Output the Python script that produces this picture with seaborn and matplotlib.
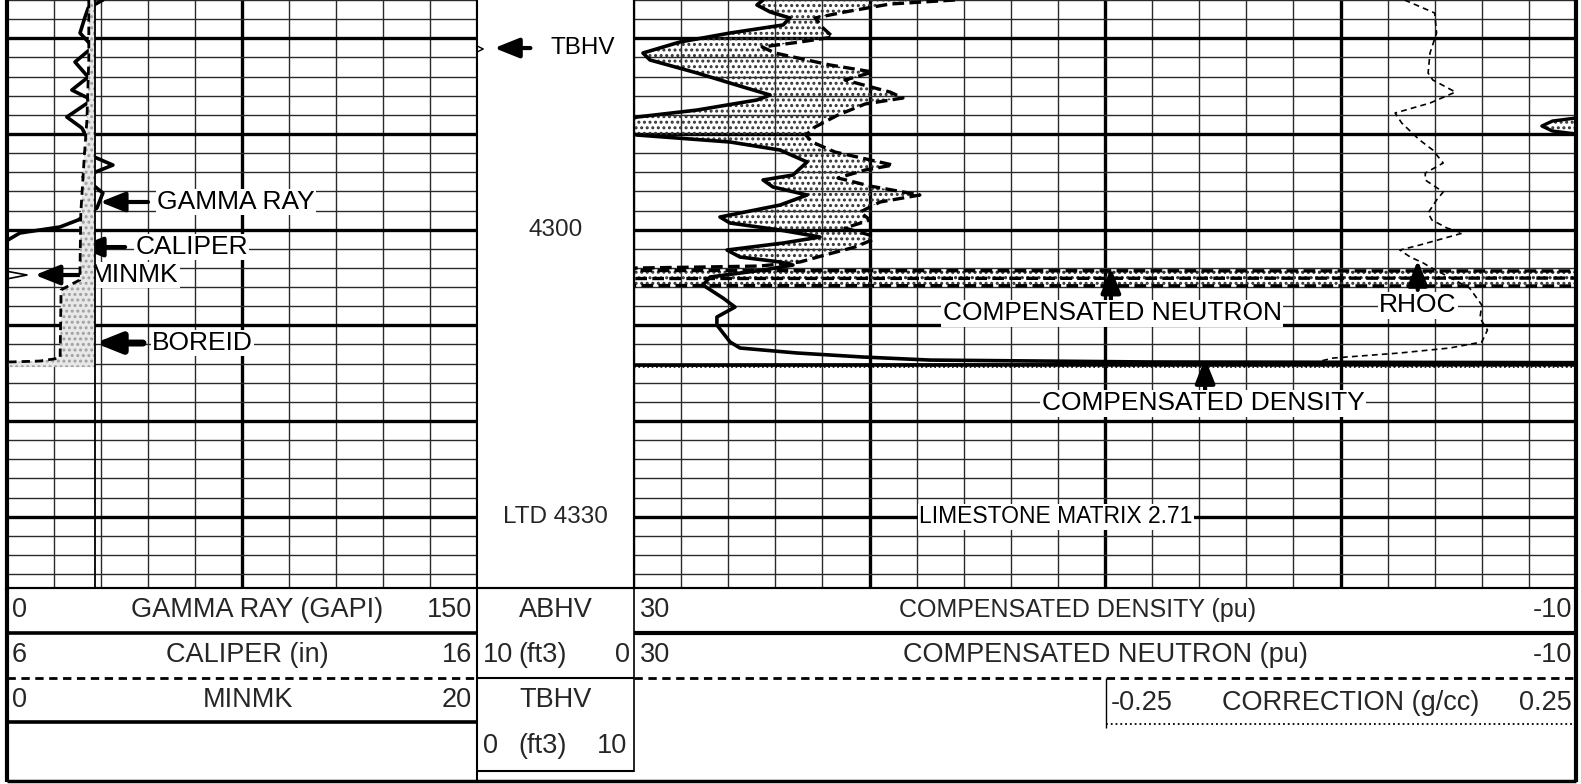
"""Wireline log panel: gamma ray / caliper track, depth track and density-neutron track."""

import matplotlib.pyplot as plt
import numpy as np
import seaborn as sns
from matplotlib.ticker import FixedLocator, MultipleLocator

W, H = 1581, 784
GRID_BOTTOM = 588
TOP_DEPTH, BASE_DEPTH = 4276.0, 4337.45

# ---- track 1 curves
gr_depth = [4276.00, 4276.84, 4277.78, 4279.45, 4280.91, 4282.48, 4284.05, 4285.41,
            4286.45, 4288.23, 4289.38, 4290.95, 4291.99, 4293.25, 4294.50, 4296.17,
            4297.74, 4298.99, 4299.72, 4300.35, 4301.08, 4301.50]
gr_gapi = [30.6, 25.9, 24.9, 23.3, 27.4, 21.7, 25.9, 20.7, 27.1, 19.1, 23.9, 26.5,
           24.9, 33.8, 24.3, 30.6, 28.7, 22.7, 16.9, 4.1, 0.3, -2.0]

cal_depth = [4276.00, 4282.27, 4288.54, 4292.72, 4298.26, 4305.26, 4305.68, 4306.31,
             4313.42, 4313.73, 4313.83, 4314.36]
cal_in = [7.74, 7.74, 7.70, 7.64, 7.57, 7.55, 7.38, 7.15, 7.13, 6.70, 6.04, 6.04]
bit_size_in = 7.875

minmk_depth = [4276.0, 4304.35, 4304.74, 4305.15, 4337.4]
minmk_val = [0.0, 0.0, 0.85, 0.0, 0.0]

# ---- depth track curve
tbhv_depth = [4276.0, 4280.80, 4281.12, 4281.44, 4337.4]
tbhv_ft3 = [0.0, 0.0, 0.4, 0.0, 0.0]

# ---- track 2 curves
dens_depth = [4276.00, 4276.52, 4277.25, 4277.88, 4278.61, 4279.45, 4280.39, 4281.54,
              4282.27, 4283.63, 4285.09, 4285.93, 4286.45, 4287.50, 4288.23, 4288.33,
              4288.65, 4289.17, 4289.69, 4290.00, 4290.11, 4290.84, 4291.68, 4292.93,
              4294.29, 4294.81, 4295.54, 4296.38, 4297.43, 4298.68, 4299.31, 4300.04,
              4300.77, 4301.40, 4302.13, 4302.86, 4303.38, 4303.70, 4304.22, 4304.95,
              4305.79, 4307.15, 4308.09, 4309.13, 4309.97, 4311.74, 4312.37, 4312.89,
              4313.31, 4313.63, 4313.83, 4313.90, 4314.10, 4314.15]
dens_pu = [24.52, 24.78, 24.22, 23.38, 23.67, 25.92, 28.05, 29.62,
           29.32, 27.32, 25.37, 24.22, 24.78, 27.32, 29.87, 30.0,
           31.0, 31.45, 31.0, 30.0, 29.87, 25.92, 23.80, 22.65,
           23.25, 24.52, 24.10, 22.65, 23.80, 26.35, 25.92, 23.80,
           22.10, 23.67, 26.05, 25.50, 23.80, 23.25, 24.52, 26.77,
           27.07, 26.22, 25.71, 26.48, 26.48, 25.92, 25.50, 23.08,
           20.28, 17.43, 8.09, -10.5, -10.5, 30.5]

neut_depth = [4276.00, 4276.42, 4277.25, 4277.88, 4278.93, 4279.87, 4280.39, 4280.91,
              4281.54, 4282.79, 4283.53, 4284.36, 4285.62, 4286.24, 4286.87, 4288.02,
              4289.27, 4290.11, 4290.84, 4291.89, 4293.25, 4293.77, 4294.60, 4295.44,
              4296.38, 4297.11, 4298.16, 4298.99, 4299.83, 4300.67, 4301.08, 4301.82,
              4302.65, 4303.38, 4303.80, 4303.91, 4304.01, 4304.27, 4304.32, 4305.06,
              4305.11, 4305.84, 4305.89, 4306.10]
neut_pu = [16.37, 19.13, 21.04, 22.31, 21.97, 21.55, 22.95, 24.56,
           24.01, 21.68, 19.85, 21.04, 19.13, 18.58, 20.19, 21.34,
           22.31, 22.70, 22.44, 21.46, 19.00, 20.19, 21.34, 19.98,
           17.86, 19.55, 20.40, 19.98, 21.04, 19.85, 19.89, 20.62,
           21.89, 22.95, 24.65, 27.20, 29.92, 30.5, -10.5, -10.5,
           30.5, 30.5, -10.5, -10.5]

rhoc_depth = [4276.00, 4277.36, 4279.45, 4281.54, 4283.63, 4284.36, 4285.62, 4286.77,
              4287.81, 4288.86, 4290.63, 4291.68, 4293.04, 4294.08, 4294.81, 4296.07,
              4296.90, 4298.26, 4298.99, 4299.83, 4300.35, 4301.61, 4302.13, 4302.86,
              4303.49, 4303.91, 4304.74, 4306.10, 4307.88, 4309.24, 4310.49, 4311.74,
              4312.37, 4312.89, 4313.42, 4313.83]
rhoc_gcc = [0.068, 0.100, 0.102, 0.095, 0.093, 0.098, 0.122, 0.095,
            0.058, 0.065, 0.084, 0.098, 0.109, 0.090, 0.090, 0.109,
            0.102, 0.093, 0.097, 0.113, 0.130, 0.084, 0.063, 0.074,
            0.088, 0.095, 0.111, 0.137, 0.150, 0.148, 0.156, 0.150,
            0.116, 0.063, -0.008, -0.025]

# overflow bands where the porosity curves run off scale
band_tops = [4304.22, 4313.90]
band_bases = [4306.10, 4314.33]

sns.set_theme(style="white")
plt.rcParams["font.family"] = ["Liberation Sans", "DejaVu Sans"]
plt.rcParams["hatch.linewidth"] = 1.4

fig = plt.figure(figsize=(W / 100, H / 100), dpi=100)
fig.patch.set_facecolor("white")


def track_axes(x0, x1):
    ax = fig.add_axes([x0 / W, 1 - GRID_BOTTOM / H, (x1 - x0) / W, GRID_BOTTOM / H])
    ax.set_ylim(BASE_DEPTH, TOP_DEPTH)
    ax.set_facecolor("white")
    ax.tick_params(which="both", length=0, labelbottom=False, labelleft=False)
    ax.spines["top"].set_visible(False)
    for side in ("left", "right", "bottom"):
        ax.spines[side].set_color("black")
        ax.spines[side].set_linewidth(1.5)
    return ax


def add_grid(ax, major_x, minor_step):
    ax.xaxis.set_major_locator(FixedLocator(major_x))
    ax.xaxis.set_minor_locator(MultipleLocator(minor_step))
    ax.yaxis.set_major_locator(MultipleLocator(10))
    ax.yaxis.set_minor_locator(MultipleLocator(2))
    ax.grid(which="major", color="black", linewidth=2.4)
    ax.grid(which="minor", color="#2a2a2a", linewidth=1.0)
    ax.set_axisbelow(True)


def twin(ax, lo, hi):
    t = ax.twiny()
    t.set_xlim(lo, hi)
    t.set_ylim(BASE_DEPTH, TOP_DEPTH)
    t.set_axis_off()
    return t


def curve(ax, x, y, **kw):
    sns.lineplot(x=x, y=y, sort=False, estimator=None, ax=ax, color="black", **kw)
    ax.set_xlabel("")
    ax.set_ylabel("")


def arrow(ax, tip, tail, lw=3.0):
    ax.annotate("", xy=tip, xytext=tail, zorder=8,
                arrowprops=dict(arrowstyle="-|>,head_length=0.75,head_width=0.3",
                                lw=lw, color="black", shrinkA=0, shrinkB=0,
                                mutation_scale=20))


def label(ax, x, y, s, ha="left", size=19):
    ax.text(x, y, s, ha=ha, va="center", fontsize=size, color="black", zorder=9,
            bbox=dict(facecolor="white", edgecolor="none", pad=1.0))


stipple = dict(facecolor=(1, 1, 1, 0), hatch="...", edgecolor="#333333", linewidth=0)

# ---------------- track 1
ax1 = track_axes(7, 477)
ax1.set_xlim(0, 150)
ax1.spines["left"].set_linewidth(3)
add_grid(ax1, [75], 15)
ax_cal = twin(ax1, 6, 16)
ax_mk = twin(ax1, 0, 20)

cal = np.array(cal_in)
ax_cal.fill_betweenx(cal_depth, cal, bit_size_in, where=cal < bit_size_in,
                     facecolor="#e8e8e8", hatch="...", edgecolor="#a0a0a0",
                     linewidth=0, zorder=2)
ax_cal.axvline(bit_size_in, color="black", linewidth=1.3, zorder=3)
curve(ax_cal, cal_in, cal_depth, linewidth=2.0, linestyle=(0, (3, 1.8)))
curve(ax_mk, minmk_val, minmk_depth, linewidth=1.2)
curve(ax1, gr_gapi, gr_depth, linewidth=2.6)
ax1.set_xlim(0, 150)
ax1.set_ylim(BASE_DEPTH, TOP_DEPTH)

arrow(ax1, (29.7, 4297.11), (45.0, 4297.11))
label(ax1, 47.9, 4297.11, "GAMMA RAY")
arrow(ax1, (22.7, 4301.82), (37.7, 4301.82))
label(ax1, 40.9, 4301.82, "CALIPER")
arrow(ax1, (8.9, 4304.74), (23.3, 4304.74))
label(ax1, 26.8, 4304.74, "MINMK")
arrow(ax1, (28.1, 4311.85), (43.4, 4311.85), lw=5)
label(ax1, 46.3, 4311.85, "BOREID")

# ---------------- depth track
axd = track_axes(477, 634)
axd.set_xlim(0, 10)
axd.grid(False)
curve(axd, tbhv_ft3, tbhv_depth, linewidth=1.0)
axd.set_xlim(0, 10)
axd.set_ylim(BASE_DEPTH, TOP_DEPTH)
arrow(axd, (1.1, 4281.02), (3.4, 4281.02))
label(axd, 4.65, 4281.02, "TBHV", size=17.5)
axd.text(5, 4300, "4300", ha="center", va="center", fontsize=17.5)
axd.text(5, 4330, "LTD 4330", ha="center", va="center", fontsize=17.5)

# ---------------- track 2
ax2 = track_axes(634, 1576)
ax2.set_xlim(30, -10)
ax2.spines["right"].set_linewidth(3)
add_grid(ax2, [20, 10, 0], 2)
ax_rc = twin(ax2, -0.75, 0.25)

dd = np.linspace(neut_depth[0], neut_depth[-1], 3000)
d_on = np.interp(dd, dens_depth, dens_pu)
n_on = np.interp(dd, neut_depth, neut_pu)
ax2.fill_betweenx(dd, d_on, n_on, where=n_on < d_on, interpolate=True, zorder=2, **stipple)

for top, base in zip(band_tops, band_bases):
    ax2.fill_betweenx([top, base], 30, -10, zorder=2, **stipple)
ax2.axhline(band_bases[1] + 0.05, color="black", linewidth=1.2, linestyle=":", zorder=3)

# density backup trace: readings above 30 pu wrap round to the right-hand edge
dens = np.array(dens_pu)
dep = np.array(dens_depth)
over = (dens >= 30) & (dep < 4300)
wrap_depth = dep[over]
wrap_pu = dens[over] - 40
ax2.fill_betweenx(wrap_depth, wrap_pu, -10, zorder=2, **stipple)
curve(ax2, wrap_pu, wrap_depth, linewidth=2.4)

curve(ax2, neut_pu, neut_depth, linewidth=2.4, linestyle=(0, (3.5, 1.6)))
curve(ax2, dens_pu, dens_depth, linewidth=2.6)
curve(ax_rc, rhoc_gcc, rhoc_depth, linewidth=1.2, linestyle=(0, (3.5, 2.5)))
ax2.set_xlim(30, -10)
ax2.set_ylim(BASE_DEPTH, TOP_DEPTH)
ax_rc.set_xlim(-0.75, 0.25)

arrow(ax2, (9.75, 4304.0), (9.75, 4307.3))
label(ax2, 9.7, 4308.75, "COMPENSATED NEUTRON", ha="center")
arrow(ax_rc, (0.082, 4303.2), (0.082, 4306.3))
label(ax_rc, 0.082, 4307.9, "RHOC", ha="center")
arrow(ax2, (5.75, 4313.45), (5.75, 4316.8))
label(ax2, 5.84, 4318.15, "COMPENSATED DENSITY", ha="center")
label(ax2, 12.08, 4330.0, "LIMESTONE MATRIX 2.71", ha="center", size=16.5)

# ---------------- header block (pixel coordinates)
hdr = fig.add_axes([0, 0, 1, 1], zorder=10)
hdr.set_xlim(0, W)
hdr.set_ylim(H, 0)
hdr.set_axis_off()


def hline(x0, x1, y, lw=1.5, ls="-"):
    hdr.plot([x0, x1], [y, y], color="black", linewidth=lw, linestyle=ls,
             solid_capstyle="butt")


def vline(x, y0, y1, lw=1.5):
    hdr.plot([x, x], [y0, y1], color="black", linewidth=lw, solid_capstyle="butt")


def htext(x, y, s, ha="center", size=None):
    hdr.text(x, y, s, ha=ha, va="center", fontsize=size or HS)


hline(7, 1576, GRID_BOTTOM, 1.5)
hline(7, 477, 633, 2.6)
hline(634, 1576, 633, 3.0)
hline(7, 477, 678, 2.0, (0, (3, 2)))
hline(634, 1576, 678, 2.0, (0, (3, 2)))
hline(477, 634, 678, 1.5)
hline(7, 477, 722, 2.6)
hline(477, 634, 771, 1.5)
vline(1106, 678, 728, 1.0)
hline(1106, 1576, 724, 1.3, ":")
vline(477, GRID_BOTTOM, 781, 1.5)
vline(634, GRID_BOTTOM, 772, 1.2)
vline(7, GRID_BOTTOM, 782, 3.0)
vline(1576, GRID_BOTTOM, 782, 3.0)
hline(7, 1576, 781, 2.5)

HS = 19.5
rows = [
    (610, "0", "GAMMA RAY (GAPI)", "150", 257),
    (655, "6", "CALIPER (in)", "16", 247),
    (700, "0", "MINMK", "20", 248),
]
for y, lo, name, hi, cx in rows:
    htext(12, y, lo, ha="left")
    htext(cx, y, name)
    htext(472, y, hi, ha="right")

htext(556, 610, "ABHV")
htext(483, 655, "10", ha="left")
htext(543, 655, "(ft3)")
htext(630, 655, "0", ha="right")
htext(556, 700, "TBHV")
htext(483, 746, "0", ha="left")
htext(543, 746, "(ft3)")
htext(627, 746, "10", ha="right")

htext(640, 610, "30", ha="left")
htext(1078, 610, "COMPENSATED DENSITY (pu)", size=18)
htext(1572, 610, "-10", ha="right")
htext(640, 655, "30", ha="left")
htext(1105, 655, "COMPENSATED NEUTRON (pu)")
htext(1572, 655, "-10", ha="right")
htext(1111, 703, "-0.25", ha="left")
htext(1351, 703, "CORRECTION (g/cc)")
htext(1572, 703, "0.25", ha="right")

fig.savefig("out.png", dpi=100, facecolor="white")
